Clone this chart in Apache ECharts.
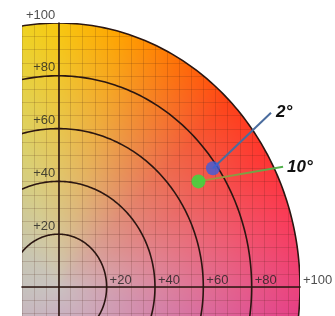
<!DOCTYPE html>
<html lang="en">
<head>
<meta charset="UTF-8">
<title>Chroma</title>
<script src="https://cdn.jsdelivr.net/npm/echarts@6/dist/echarts.min.js"></script>
<style>
  html, body { margin: 0; padding: 0; background: #fff; }
  #main { width: 335px; height: 316px; }
</style>
</head>
<body>
<div id="main"></div>
<script>
// chart values
var ringRadii = [20, 40, 60, 80, 100];
var tickValues = [20, 40, 60, 80, 100];
var tickLabels = ['+20', '+40', '+60', '+80', '+100'];
var pointNames = ['2°', '10°'];
var pointValues = [[64, 45], [58, 40]];
var labelEnds = [[88, 66], [93, 45.5]];

// view range of the plane
var xMin = -15, xMax = 100, yMin = -11, yMax = 100;
var gridStep = 5;

// hue around the edge of the plane, and the grey in the middle
var hueStops = [
  [-90, [200, 70, 190]],
  [-10, [226, 62, 140]],
  [0, [236, 66, 124]],
  [15, [250, 58, 88]],
  [30, [255, 52, 48]],
  [45, [255, 66, 22]],
  [60, [255, 112, 6]],
  [75, [255, 162, 0]],
  [90, [248, 200, 14]],
  [105, [232, 218, 50]],
  [135, [196, 206, 120]],
  [180, [180, 190, 175]],
  [270, [200, 70, 190]]
];
var centerColor = [202, 195, 193];

function edgeColor(deg) {
  if (deg < -90) deg += 360;
  for (var i = 0; i < hueStops.length - 1; i++) {
    var a = hueStops[i], b = hueStops[i + 1];
    if (deg >= a[0] && deg <= b[0]) {
      var f = (deg - a[0]) / (b[0] - a[0]);
      return [0, 1, 2].map(function (k) { return a[1][k] + (b[1][k] - a[1][k]) * f; });
    }
  }
  return hueStops[0][1];
}

function renderPlane(params, api) {
  var tl = api.coord([xMin, yMax]);
  var br = api.coord([xMax, yMin]);
  var w = Math.round(br[0] - tl[0]);
  var h = Math.round(br[1] - tl[1]);
  var sx = w / (xMax - xMin), sy = h / (yMax - yMin);
  var cvs = document.createElement('canvas');
  cvs.width = w; cvs.height = h;
  var ctx = cvs.getContext('2d');
  var img = ctx.createImageData(w, h);
  var d = img.data;
  for (var j = 0; j < h; j++) {
    for (var i = 0; i < w; i++) {
      var x = xMin + (i + 0.5) / sx;
      var y = yMax - (j + 0.5) / sy;
      var r = Math.sqrt(x * x + y * y);
      var dist = (r - 100) * (sx + sy) / 2;
      var alpha = Math.max(0, Math.min(1, 0.5 - dist));
      var p = (j * w + i) * 4;
      if (alpha <= 0) { d[p + 3] = 0; continue; }
      var deg = Math.atan2(y, x) * 180 / Math.PI;
      var t = Math.pow(Math.min(r / 100, 1), 0.85);
      var e = edgeColor(deg);
      d[p] = centerColor[0] + (e[0] - centerColor[0]) * t;
      d[p + 1] = centerColor[1] + (e[1] - centerColor[1]) * t;
      d[p + 2] = centerColor[2] + (e[2] - centerColor[2]) * t;
      d[p + 3] = alpha * 255;
    }
  }
  ctx.putImageData(img, 0, 0);
  // fine grid inside the circle
  ctx.save();
  ctx.beginPath();
  ctx.ellipse(-xMin * sx, yMax * sy, 100 * sx, 100 * sy, 0, 0, Math.PI * 2);
  ctx.clip();
  ctx.strokeStyle = 'rgba(70,30,20,0.17)';
  ctx.lineWidth = 1;
  ctx.beginPath();
  for (var gx = xMin; gx <= xMax; gx += gridStep) {
    var px = Math.round((gx - xMin) * sx) + 0.5;
    ctx.moveTo(px, 0); ctx.lineTo(px, h);
  }
  for (var gy = yMin + 1; gy <= yMax; gy += gridStep) {
    var py = Math.round((yMax - gy) * sy) + 0.5;
    ctx.moveTo(0, py); ctx.lineTo(w, py);
  }
  ctx.stroke();
  ctx.restore();
  return { type: 'image', style: { image: cvs, x: tl[0], y: tl[1], width: w, height: h } };
}

function renderRing(params, api) {
  var r = api.value(0);
  var pts = [];
  for (var a = -90; a <= 180; a += 1) {
    var t = a * Math.PI / 180;
    pts.push(api.coord([r * Math.cos(t), r * Math.sin(t)]));
  }
  return {
    type: 'polyline',
    shape: { points: pts },
    style: { fill: 'none', stroke: '#2b1611', lineWidth: 1.6 }
  };
}

var chart = echarts.init(document.getElementById('main'));

var labelFont = { fontFamily: 'Liberation Sans, Arial, sans-serif', fontSize: 13, color: '#222' };
var tagFont = {
  fontFamily: 'Liberation Sans, Arial, sans-serif', fontSize: 17,
  fontWeight: 'bold', fontStyle: 'italic', color: '#111'
};

chart.setOption({
  animation: false,
  backgroundColor: '#fff',
  grid: { left: 22, right: 35, top: 23, bottom: 0, containLabel: false, outerBoundsMode: 'none' },
  xAxis: {
    type: 'value', min: xMin, max: xMax,
    splitLine: { show: false },
    axisTick: { show: false },
    axisLabel: { show: false },
    axisLine: { show: true, onZero: true, lineStyle: { color: '#2b1611', width: 1.6 } }
  },
  yAxis: {
    type: 'value', min: yMin, max: yMax,
    splitLine: { show: false },
    axisTick: { show: false },
    axisLabel: { show: false },
    axisLine: { show: true, onZero: true, lineStyle: { color: '#2b1611', width: 1.6 } }
  },
  series: [
    {
      type: 'custom', z: 0, silent: true,
      renderItem: renderPlane,
      data: [[0, 0]]
    },
    {
      type: 'custom', z: 1, silent: true, clip: true,
      renderItem: renderRing,
      encode: { x: 0, y: 0 },
      data: ringRadii.map(function (r) { return [r, 0]; })
    },
    {
      // tick labels along the horizontal axis
      type: 'scatter', z: 2, symbolSize: 0, silent: true,
      data: tickValues.map(function (v, i) { return { value: [v, 0], name: tickLabels[i] }; }),
      label: Object.assign({
        show: true, position: [3, -7], align: 'left', verticalAlign: 'middle',
        formatter: '{b}'
      }, labelFont)
    },
    {
      // tick labels along the vertical axis
      type: 'scatter', z: 2, symbolSize: 0, silent: true,
      data: tickValues.map(function (v, i) { return { value: [0, v], name: tickLabels[i] }; }),
      label: Object.assign({
        show: true, position: [-3, -8], align: 'right', verticalAlign: 'middle',
        formatter: '{b}'
      }, labelFont)
    },
    {
      type: 'line', z: 3, symbol: 'none', clip: false,
      data: [pointValues[0], labelEnds[0]],
      lineStyle: { color: '#4a6c9e', width: 2 },
      endLabel: Object.assign({ show: true, distance: 5, formatter: pointNames[0] }, tagFont)
    },
    {
      type: 'line', z: 3, symbol: 'none', clip: false,
      data: [pointValues[1], labelEnds[1]],
      lineStyle: {
        width: 2,
        color: new echarts.graphic.LinearGradient(0, 0, 1, 0, [
          { offset: 0, color: '#b98a3a' },
          { offset: 1, color: '#4cb24c' }
        ])
      },
      endLabel: Object.assign({ show: true, distance: 4, formatter: pointNames[1] }, tagFont)
    },
    {
      type: 'scatter', z: 4, symbolSize: 14,
      data: [
        { value: pointValues[0], itemStyle: { color: '#3d5edb' } },
        { value: pointValues[1], itemStyle: { color: '#2ee33c' } }
      ]
    }
  ]
});
</script>
</body>
</html>
